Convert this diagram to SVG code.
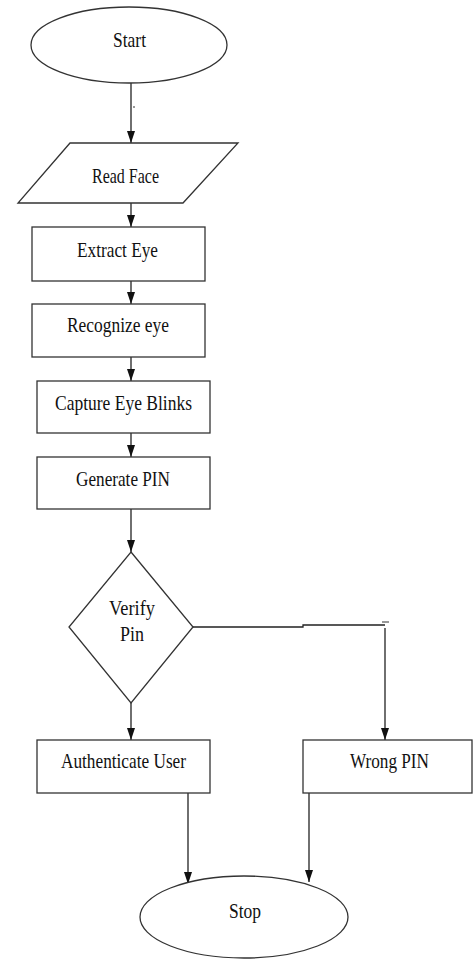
<svg xmlns="http://www.w3.org/2000/svg" width="475" height="960" viewBox="0 0 475 960">
<defs>
<marker id="ah" markerWidth="10" markerHeight="12" refX="5" refY="11" orient="auto-start-reverse" markerUnits="userSpaceOnUse" viewBox="0 0 10 12">
<path d="M0,0 L10,0 L5,12 Z" fill="#111" transform="rotate(0)"/>
</marker>
<style>
.s{fill:#fff;stroke:#333;stroke-width:1.3}
.t{font-family:"Liberation Serif","Times New Roman",serif;font-size:21px;fill:#111;text-anchor:middle}
.c{fill:none;stroke:#222;stroke-width:1.3}
</style>
</defs>
<rect width="475" height="960" fill="#fff"/>
<g id="connectors">
<line class="c" x1="131" y1="82" x2="131" y2="143"/>
<path d="M0,0" />
<line class="c" x1="131" y1="203" x2="131" y2="227"/>
<line class="c" x1="131" y1="281" x2="131" y2="304"/>
<line class="c" x1="131" y1="357" x2="131" y2="381"/>
<line class="c" x1="131" y1="433" x2="131" y2="457"/>
<line class="c" x1="131" y1="509" x2="131" y2="552"/>
<line class="c" x1="131" y1="703" x2="131" y2="740"/>
<polyline class="c" points="193,627 303,627 303,625 385,625"/>
<line class="c" x1="385" y1="628" x2="385" y2="740"/>
<line class="c" x1="188" y1="793" x2="188" y2="882"/>
<line class="c" x1="309" y1="793" x2="309" y2="882"/>
<line stroke="#333" stroke-width="1" x1="382" y1="622" x2="389" y2="622"/>
<line stroke="#333" stroke-width="1" x1="133" y1="107" x2="135" y2="107"/>
<g fill="#111">
<path d="M127,131 L135,131 L131,143 Z"/>
<path d="M127,215 L135,215 L131,227 Z"/>
<path d="M127,292 L135,292 L131,304 Z"/>
<path d="M127,369 L135,369 L131,381 Z"/>
<path d="M127,445 L135,445 L131,457 Z"/>
<path d="M127,540 L135,540 L131,552 Z"/>
<path d="M127,728 L135,728 L131,740 Z"/>
<path d="M381,728 L389,728 L385,740 Z"/>
<path d="M184,872 L192,872 L188,884 Z"/>
<path d="M305,870 L313,870 L309,882 Z"/>
</g>
</g>
<g id="start">
<ellipse class="s" cx="129" cy="45" rx="98" ry="38"/>
<text class="t" x="129.5" y="47" textLength="33" lengthAdjust="spacingAndGlyphs">Start</text>
</g>
<g id="read-face">
<polygon class="s" points="70,143 238,143 183,203 18,203"/>
<text class="t" x="125.5" y="183" textLength="67" lengthAdjust="spacingAndGlyphs">Read Face</text>
</g>
<g id="extract-eye">
<rect class="s" x="32" y="227" width="173" height="54"/>
<text class="t" x="117.5" y="257" textLength="81" lengthAdjust="spacingAndGlyphs">Extract Eye</text>
</g>
<g id="recognize-eye">
<rect class="s" x="32" y="304" width="173" height="53"/>
<text class="t" x="118" y="332" textLength="102" lengthAdjust="spacingAndGlyphs">Recognize eye</text>
</g>
<g id="capture-eye-blinks">
<rect class="s" x="37" y="381" width="173" height="52"/>
<text class="t" x="123.5" y="410" textLength="137" lengthAdjust="spacingAndGlyphs">Capture Eye Blinks</text>
</g>
<g id="generate-pin">
<rect class="s" x="37" y="457" width="173" height="52"/>
<text class="t" x="123" y="486" textLength="94" lengthAdjust="spacingAndGlyphs">Generate PIN</text>
</g>
<g id="verify-pin">
<polygon class="s" points="131,552 193,627 131,703 69,627"/>
<text class="t" x="132" y="615" textLength="46" lengthAdjust="spacingAndGlyphs">Verify</text>
<text class="t" x="132" y="641" textLength="24" lengthAdjust="spacingAndGlyphs">Pin</text>
</g>
<g id="authenticate-user">
<rect class="s" x="37" y="740" width="173" height="53"/>
<text class="t" x="123.5" y="768" textLength="125" lengthAdjust="spacingAndGlyphs">Authenticate User</text>
</g>
<g id="wrong-pin">
<rect class="s" x="303" y="740" width="169" height="53"/>
<text class="t" x="389.5" y="768" textLength="79" lengthAdjust="spacingAndGlyphs">Wrong PIN</text>
</g>
<g id="stop">
<ellipse class="s" cx="244" cy="917" rx="104" ry="41"/>
<text class="t" x="245" y="918" textLength="32" lengthAdjust="spacingAndGlyphs">Stop</text>
</g>
</svg>
